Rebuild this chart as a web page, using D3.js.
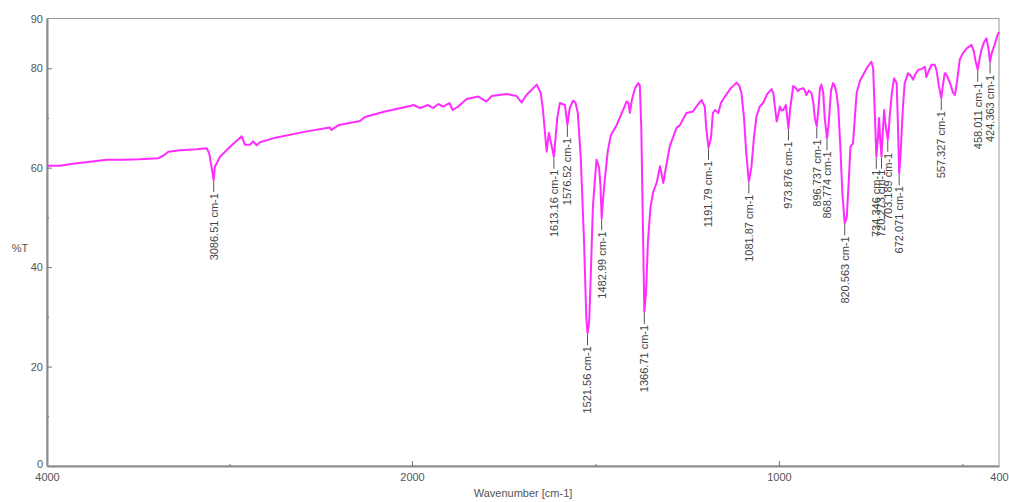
<!DOCTYPE html>
<html>
<head>
<meta charset="utf-8">
<script src="https://cdn.jsdelivr.net/npm/d3@7"></script>
<style>
  body { margin: 0; background: #fff; }
  svg text { font-family: "Liberation Sans", Arial, sans-serif; }
</style>
</head>
<body>
<svg id="chart" width="1009" height="502"></svg>
<script>
/* -------------------------------------------------------------------------- */
// spectrum (wavenumber in cm-1, transmittance in %)
const wavenumber = [
  4000, 3929, 3858, 3764, 3673, 3584, 3491, 3390, 3363, 3335, 3271, 3180,
  3125, 3111, 3086.51, 3080, 3052, 2997, 2933, 2915, 2888, 2870, 2851, 2833,
  2762, 2577, 2450, 2442, 2400, 2285, 2258, 2148, 2011, 1996, 1978, 1956,
  1942, 1928, 1915, 1898, 1889, 1874, 1851, 1819, 1797, 1783, 1742, 1715,
  1701, 1688, 1660, 1649, 1643, 1633, 1627, 1613.16, 1604, 1597, 1583,
  1576.52, 1570, 1561, 1554, 1548, 1540, 1531, 1525, 1521.56, 1517, 1512,
  1507, 1501, 1497, 1490, 1486, 1482.99, 1480, 1474, 1466, 1458, 1442, 1428,
  1415, 1410, 1406, 1401, 1392, 1383, 1379, 1375, 1371, 1366.71, 1362, 1357,
  1350, 1343, 1333, 1324, 1315, 1308, 1297, 1279, 1270, 1252, 1234, 1223,
  1211, 1202, 1198, 1191.79, 1185, 1180, 1174, 1165, 1158, 1147, 1131, 1115,
  1108, 1102, 1095, 1089, 1081.87, 1075, 1068, 1061, 1052, 1043, 1032, 1020,
  1015, 1011, 1006, 1002, 997, 993, 988, 981, 973.876, 969, 961, 954, 948,
  942, 934, 929, 925, 918, 911, 906, 902, 896.737, 892, 888, 884, 879, 875,
  868.774, 864, 858, 852, 848, 843, 838, 833, 827, 820.563, 815, 809, 805,
  798, 793, 788, 779, 770, 759, 748, 743, 739, 734.346, 730, 727, 724,
  720.273, 717, 713, 710, 703.189, 700, 698, 692, 686, 679, 676, 672.071,
  668, 662, 657, 648, 640, 634, 628, 620, 612, 602, 598, 591, 584, 575, 570,
  564, 557.327, 553, 548, 544, 539, 531, 526, 520, 515, 507, 499, 488, 475,
  469, 464, 458.011, 454, 448, 441, 434, 429, 424.363, 420, 412, 405, 400
];
const transmittance = [
  60.4, 60.4, 60.8, 61.2, 61.6, 61.6, 61.7, 61.9, 62.4, 63.2, 63.5, 63.7,
  63.9, 62.9, 57.5, 60.2, 62.2, 64.2, 66.3, 64.6, 64.6, 65.3, 64.5, 65.1,
  65.9, 67.3, 68.1, 67.6, 68.6, 69.4, 70.2, 71.3, 72.4, 72.6, 72.0, 72.6,
  72.0, 72.8, 72.3, 73.0, 71.6, 72.3, 73.8, 74.3, 73.3, 74.4, 74.8, 74.4,
  73.1, 74.6, 76.7, 75.0, 71.6, 63.2, 67.0, 62.2, 70.0, 73.0, 72.6,
  68.6, 72.0, 73.5, 73.0, 71.0, 62.0, 45.0, 30.0, 26.7, 29.0, 40.0,
  52.0, 58.0, 61.6, 60.0, 56.0, 49.8, 53.0, 58.0, 63.5, 66.5, 68.6, 71.0,
  73.3, 73.0, 71.0, 73.5, 76.0, 77.0, 76.5, 68.0, 50.0, 31.0, 35.0, 45.0,
  52.0, 55.0, 57.0, 60.3, 56.9, 60.0, 64.4, 68.0, 68.5, 71.0, 71.3, 72.5,
  73.6, 72.3, 68.0, 64.0, 66.0, 71.0, 71.6, 71.0, 73.0, 74.3, 76.0, 77.1,
  76.5, 75.0, 70.0, 63.0, 57.2, 60.0, 66.0, 70.3, 72.3, 73.0, 74.8, 75.8,
  75.0, 72.3, 69.3, 70.5, 72.3, 71.5, 71.6, 72.6, 67.9, 72.0, 76.4, 76.0, 75.4,
  75.8, 76.0, 75.5, 74.6, 75.5, 75.0, 73.0, 70.0, 68.3, 72.0, 76.0, 76.7, 75.0, 70.0,
  65.9, 69.0, 75.5, 77.0, 76.5, 75.0, 72.0, 65.0, 55.0, 48.8, 50.0, 58.0, 64.2,
  64.9, 70.0, 75.0, 77.5, 78.7, 80.2, 81.3, 80.0, 72.0, 62.2, 66.0, 70.0, 66.0,
  62.2, 67.0, 71.6, 69.0, 65.6, 68.0, 70.3, 75.0, 78.0, 77.0, 70.0, 58.9,
  63.0, 72.0, 77.0, 79.0, 78.5, 77.7, 78.8, 79.7, 79.8, 80.3, 78.2, 79.5, 80.7, 80.7, 79.5,
  76.5, 74.0, 76.5, 79.0, 78.8, 78.0, 76.5, 75.2, 74.6, 77.0, 81.7, 83.0, 84.0, 84.7,
  83.5, 81.5, 79.7, 81.5, 83.7, 85.2, 86.0, 84.0, 81.3, 83.0, 84.7, 86.5, 87.3
];

// labelled peaks
const peakWavenumber = [
  3086.51, 1613.16, 1576.52, 1521.56, 1482.99, 1366.71, 1191.79, 1081.87,
  973.876, 896.737, 868.774, 820.563, 734.346, 720.273, 703.189, 672.071,
  557.327, 458.011, 424.363
];
const peakLabel = [
  '3086.51', '1613.16', '1576.52', '1521.56', '1482.99', '1366.71', '1191.79',
  '1081.87', '973.876', '896.737', '868.774', '820.563', '734.346', '720.273',
  '703.189', '672.071', '557.327', '458.011', '424.363'
];

const xTickLabels = [4000, 2000, 1000, 400];
const xMinorTicks = [3000, 1500, 500];
const yTickLabels = [0, 20, 40, 60, 80, 90];
const yMinorTicks = [10, 30, 50, 70];

/* -------------------------------------------------------------------------- */
const margin = {left: 47, right: 10, top: 18.5, bottom: 36};
const width = 1009, height = 502;

const svg = d3.select('#chart');

// the spectrometer software plots 4000-2000 at half the scale of 2000-400
const x = d3.scaleLinear()
  .domain([4000, 2000, 400])
  .range([margin.left, 412, width - margin.right]);

const y = d3.scaleLinear()
  .domain([0, 90])
  .range([height - margin.bottom, margin.top]);

const spectrum = wavenumber.map((w, i) => ({w: w, t: transmittance[i]}));

function tAt(w) {
  let i = wavenumber.indexOf(w);
  return transmittance[i];
}

/* -------------------------------------------------------------------------- */
// frame
svg.append('rect')
  .attr('x', x(4000)).attr('y', y(90))
  .attr('width', x(400) - x(4000)).attr('height', y(0) - y(90))
  .attr('fill', 'none').attr('stroke', '#9a9a9a').attr('stroke-width', 1);

// axes
const gx = svg.append('g')
  .attr('transform', `translate(0,${y(0)})`)
  .call(d3.axisBottom(x).tickValues(xTickLabels).tickFormat(d3.format('d'))
    .tickSizeInner(-5).tickSizeOuter(0).tickPadding(7));

svg.append('g')
  .attr('transform', `translate(0,${y(0)})`)
  .call(d3.axisBottom(x).tickValues(xMinorTicks).tickFormat('')
    .tickSizeInner(-2).tickSizeOuter(0))
  .select('.domain').remove();

const gy = svg.append('g')
  .attr('transform', `translate(${x(4000)},0)`)
  .call(d3.axisLeft(y).tickValues(yTickLabels)
    .tickSizeInner(-5).tickSizeOuter(0).tickPadding(4));

svg.append('g')
  .attr('transform', `translate(${x(4000)},0)`)
  .call(d3.axisLeft(y).tickValues(yMinorTicks).tickFormat('')
    .tickSizeInner(-2).tickSizeOuter(0))
  .select('.domain').remove();

svg.selectAll('.domain').attr('stroke', '#8c8c8c').attr('stroke-width', 2);
svg.selectAll('.tick line').attr('stroke', '#777');
svg.selectAll('.tick text').attr('fill', '#555').style('font-size', '11px');

// the end ticks sit on the corners
gx.selectAll('.tick').filter(d => d == 4000 || d == 400).select('line').remove();
gy.selectAll('.tick').filter(d => d == 0 || d == 90).select('line').remove();
// the zero label sits just above the 4000 label
gy.selectAll('.tick').filter(d => d == 0).select('text').attr('dy', '0.1em');

svg.append('text')
  .attr('x', (x(4000) + x(400)) / 2).attr('y', 497)
  .attr('text-anchor', 'middle').attr('fill', '#555')
  .style('font-size', '11px')
  .text('Wavenumber [cm-1]');

svg.append('text')
  .attr('x', 20).attr('y', 252)
  .attr('text-anchor', 'middle').attr('fill', '#555')
  .style('font-size', '11px')
  .text('%T');

/* -------------------------------------------------------------------------- */
// spectrum
const line = d3.line()
  .x(d => x(d.w))
  .y(d => y(d.t));

svg.append('path')
  .datum(spectrum)
  .attr('fill', 'none')
  .attr('stroke', '#ff2cff')
  .attr('stroke-width', 2)
  .attr('stroke-linejoin', 'round')
  .attr('d', line);

// peak picks
const peaks = svg.append('g').selectAll('g')
  .data(peakWavenumber.map((w, i) => ({w: w, t: tAt(w), label: peakLabel[i]})))
  .enter()
  .append('g')
  .attr('transform', d => `translate(${x(d.w)},${y(d.t)})`);

peaks.append('line')
  .attr('x1', 0).attr('x2', 0)
  .attr('y1', 1).attr('y2', 12)
  .attr('stroke', '#555').attr('stroke-width', 1);

peaks.append('text')
  .attr('transform', 'translate(0,13) rotate(-90)')
  .attr('text-anchor', 'end')
  .attr('dy', '0.35em')
  .attr('fill', '#444')
  .style('font-size', '11px')
  .text(d => d.label + ' cm-1');
</script>
</body>
</html>
